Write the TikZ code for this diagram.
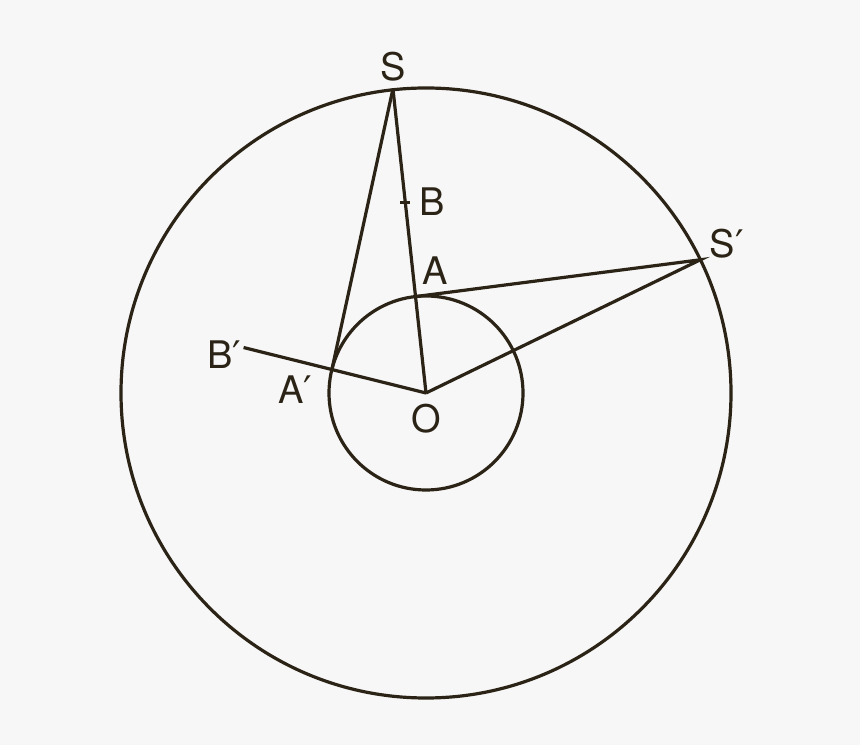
\documentclass[tikz,border=0pt]{standalone}
\usepackage{fontspec}
\setmainfont{TeX Gyre Heros}
\newfontfamily\primefont{DejaVu Sans}
\usetikzlibrary{positioning}

\definecolor{ink}{HTML}{2B2416}
\definecolor{paper}{HTML}{F7F7F7}
\newcommand{\pr}{{\primefont ′}}

\begin{document}
\begin{tikzpicture}[
    x=1pt, y=1pt,
    node distance=6pt,
    line width=3.2pt, draw=ink,
    lbl/.style={text=ink, inner sep=0pt, font=\fontsize{38}{40}\selectfont}
    ]

    \fill[paper] (0,0) rectangle (860,745);
    \useasboundingbox (0,0) rectangle (860,745);

    \coordinate (O) at (426,352);
    \coordinate (S) at ([shift={(96.2:306)}]O);
    \coordinate (Sp) at ([shift={(25.9:305)}]O);
    \coordinate (A) at ([shift={(96.2:97)}]O);
    \coordinate (B) at ([shift={(96.2:192)}]O);
    \coordinate (Ap) at ([shift={(166:97)}]O);
    \coordinate (Bp) at ([shift={(166:188)}]O);

    \draw (O) circle[radius=305];
    \draw (O) circle[radius=97];
    \draw (S) -- (O);
    \draw (S) -- (Ap);
    \draw (A) -- (Sp) -- (O);
    \draw (Bp) -- (O);
    \draw ([xshift=-5pt]B) -- ([xshift=5pt]B);

    \node[lbl, above=6pt of S] (lS) {S};
    \node[lbl, right=13pt of B] (lB) {B};
    \node[lbl, above right=10pt and 5pt of A] (lA) {A};
    \node[lbl, above right=0pt and 8pt of Sp] (lSp) {S\pr};
    \node[lbl, left=1pt of Bp, yshift=-7pt] (lBp) {B\pr};
    \node[lbl, below left=5pt and 18pt of Ap] (lAp) {A\pr};
    \node[lbl, below=10pt of O] (lO) {O};

  \end{tikzpicture}
\end{document}
